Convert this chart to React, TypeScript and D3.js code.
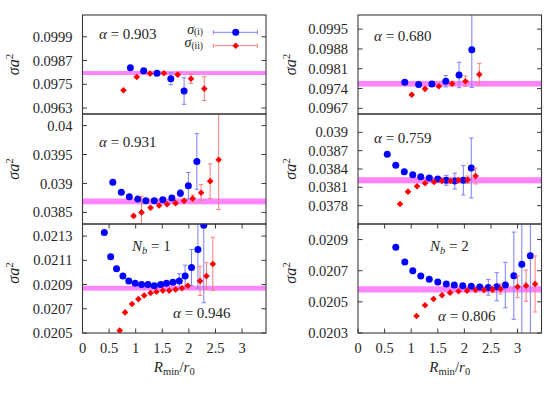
import React from 'react';
import * as d3 from 'd3';

// ---- shared x axis ----
const xTicks = [0, 0.5, 1, 1.5, 2, 2.5, 3];
const xTickLabels = ['0', '0.5', '1', '1.5', '2', '2.5', '3'];
const xDomain = [0, 3.45];

// ---- panel data: [x, y, err] ----
// left top, alpha = 0.903
const ltBlue = [[0.90, 0.09834, 0.00004], [1.15, 0.09819, 0.00004], [1.40, 0.09806, 0.00005], [1.66, 0.09778, 0.0003], [1.91, 0.09716, 0.00067]];
const ltRed = [[0.77, 0.09720, 0.00003], [1.02, 0.09787, 0.00003], [1.27, 0.09804, 0.00003], [1.53, 0.09806, 0.00004], [1.79, 0.09799, 0.00008], [2.04, 0.09778, 0.00024], [2.29, 0.09728, 0.0006]];
const ltBand = [0.09807, 0.0001];
const ltYTicks = [0.0963, 0.0975, 0.0987, 0.0999];
const ltYLabels = ['0.0963', '0.0975', '0.0987', '0.0999'];

// left middle, alpha = 0.931
const lmBlue = [[0.57, 0.03902, 0.00001], [0.73, 0.03885, 0.00001], [0.88, 0.03877, 0.00001], [1.04, 0.03873, 0.00001], [1.19, 0.03870, 0.00001], [1.35, 0.03870, 0.00002], [1.51, 0.03872, 0.00002], [1.68, 0.03875, 0.00004], [1.84, 0.03883, 0.00006], [1.99, 0.03896, 0.00023], [2.15, 0.03938, 0.00048]];
const lmRed = [[0.96, 0.03844, 0.00002], [1.11, 0.03850, 0.00028], [1.28, 0.03858, 0.00002], [1.44, 0.03862, 0.00002], [1.59, 0.03864, 0.00002], [1.75, 0.03866, 0.00002], [1.91, 0.03870, 0.00003], [2.07, 0.03874, 0.00006], [2.23, 0.03884, 0.00014], [2.40, 0.03904, 0.0003], [2.56, 0.03941, 0.00086]];
const lmBand = [0.03869, 0.00005];
const lmYTicks = [0.0385, 0.039, 0.0395, 0.04];
const lmYLabels = ['0.0385', '0.039', '0.0395', '0.04'];

// left bottom, alpha = 0.946, N_b = 1
const lbBlue = [[0.41, 0.02133, 0], [0.53, 0.02113, 0], [0.64, 0.02103, 0], [0.76, 0.02097, 0], [0.87, 0.02093, 0], [0.99, 0.02091, 0], [1.11, 0.02090, 0], [1.23, 0.02090, 0], [1.35, 0.02089, 0], [1.47, 0.02090, 0.000005], [1.58, 0.02091, 0.00001], [1.70, 0.02092, 0.00002], [1.82, 0.02093, 0.00006], [1.93, 0.02097, 0.00009], [2.05, 0.02104, 0.00015], [2.17, 0.02119, 0.00032], [2.28, 0.02139, 0.00064]];
const lbRed = [[0.70, 0.02052, 0], [0.80, 0.02067, 0], [0.93, 0.02074, 0], [1.05, 0.02078, 0], [1.16, 0.02081, 0], [1.28, 0.02083, 0], [1.39, 0.02084, 0], [1.51, 0.02085, 0], [1.63, 0.02085, 0], [1.75, 0.02086, 0], [1.87, 0.02087, 0.000005], [1.98, 0.02089, 0.00001], [2.21, 0.02093, 0.00012], [2.33, 0.02097, 0.00011], [2.45, 0.02107, 0.00022]];
const lbBand = [0.02087, 0.00002];
const lbYTicks = [0.0205, 0.0207, 0.0209, 0.0211, 0.0213];
const lbYLabels = ['0.0205', '0.0207', '0.0209', '0.0211', '0.0213'];

// right top, alpha = 0.680
const rtBlue = [[0.88, 0.09762, 0.00003], [1.14, 0.09754, 0.00003], [1.39, 0.09756, 0.00005], [1.65, 0.09766, 0.0002], [1.90, 0.09788, 0.00045], [2.14, 0.09877, 0.00133]];
const rtRed = [[1.01, 0.09718, 0.00003], [1.26, 0.09739, 0.00003], [1.52, 0.09748, 0.00004], [1.77, 0.09757, 0.00006], [2.02, 0.09766, 0.00018], [2.28, 0.0979, 0.00039]];
const rtBand = [0.09757, 0.0001];
const rtYTicks = [0.0967, 0.0974, 0.0981, 0.0988, 0.0995];
const rtYLabels = ['0.0967', '0.0974', '0.0981', '0.0988', '0.0995'];

// right middle, alpha = 0.759
const rmBlue = [[0.55, 0.03864, 0.00001], [0.71, 0.03846, 0.00001], [0.87, 0.038356, 0.00001], [1.03, 0.038307, 0.00001], [1.18, 0.038274, 0.00001], [1.34, 0.038253, 0.00002], [1.50, 0.038236, 0.00003], [1.66, 0.038215, 0.00008], [1.82, 0.038203, 0.00013], [1.98, 0.038215, 0.00024], [2.13, 0.038416, 0.00049]];
const rmRed = [[0.79, 0.037827, 0.00001], [0.94, 0.038029, 0.00001], [1.11, 0.038117, 0.00001], [1.26, 0.038166, 0.00001], [1.43, 0.038187, 0.00001], [1.58, 0.038203, 0.00002], [1.74, 0.038203, 0.00003], [1.89, 0.038215, 0.00004], [2.06, 0.038225, 0.00006], [2.21, 0.038285, 0.00013]];
const rmBand = [0.038215, 0.00005];
const rmYTicks = [0.0378, 0.0381, 0.0384, 0.0387, 0.039];
const rmYLabels = ['0.0378', '0.0381', '0.0384', '0.0387', '0.039'];

// right bottom, alpha = 0.806, N_b = 2
const rbBlue = [[0.71, 0.02085, 0], [0.88, 0.020756, 0], [1.03, 0.0207, 0], [1.18, 0.020666, 0], [1.34, 0.020645, 0], [1.50, 0.020627, 0], [1.66, 0.020615, 0], [1.81, 0.020608, 0], [1.97, 0.020604, 0.000005], [2.13, 0.0206, 0.00001], [2.29, 0.020595, 0.000016], [2.45, 0.020593, 0.00005], [2.61, 0.020597, 0.00009], [2.77, 0.020608, 0.000146], [2.93, 0.020668, 0.00028], [3.08, 0.020741, 0.0006], [3.24, 0.020796, 0.0007]];
const rbRed = [[1.10, 0.020409, 0], [1.26, 0.020478, 0], [1.42, 0.020518, 0], [1.58, 0.020542, 0], [1.73, 0.020559, 0], [1.89, 0.020568, 0], [2.05, 0.020572, 0], [2.21, 0.020576, 0], [2.37, 0.020576, 0.00001], [2.53, 0.02058, 0.00002], [2.68, 0.020583, 0.000032], [3.00, 0.020597, 0.00007], [3.16, 0.020604, 0.0001], [3.33, 0.020615, 0.00018]];
const rbBand = [0.02058, 0.00002];
const rbYTicks = [0.0203, 0.0205, 0.0207, 0.0209];
const rbYLabels = ['0.0203', '0.0205', '0.0207', '0.0209'];

const alphaLabels = ['0.903', '0.931', '0.946', '0.680', '0.759', '0.806'];
const nbLabels = ['1', '2'];
const legendSubs = ['(i)', '(ii)'];

// ---- layout ----
const W = 551, H = 394;
const colX = [[82.5, 266], [358, 541.5]];
const rowY = [[15, 114], [114, 224], [224, 333]];
const FONT = "'Liberation Serif', 'Times New Roman', serif";
const TXT = '#262626';
const FRAME = '#3a3a3a';
const BLUE = '#0000ff', RED = '#ff0000';
const BLUE_ERR = '#7d7dff', RED_ERR = '#ff7d7d';
const BAND = '#ff85ff';
const fs = (size: number, italic = false) => ({ fontFamily: FONT, fontSize: size + 'px', fontStyle: italic ? 'italic' : 'normal' });

const panels = [
  { col: 0, row: 0, yDomain: [0.096, 0.101], yTicks: ltYTicks, yLabels: ltYLabels, blue: ltBlue, red: ltRed, band: ltBand, alpha: alphaLabels[0], aPos: [99, 39], nb: null, legend: true },
  { col: 0, row: 1, yDomain: [0.0383, 0.0402], yTicks: lmYTicks, yLabels: lmYLabels, blue: lmBlue, red: lmRed, band: lmBand, alpha: alphaLabels[1], aPos: [99, 147.3], nb: null },
  { col: 0, row: 2, yDomain: [0.0205, 0.0214], yTicks: lbYTicks, yLabels: lbYLabels, blue: lbBlue, red: lbRed, band: lbBand, alpha: alphaLabels[2], aPos: [173, 318.3], nb: nbLabels[0], nbPos: [132, 251.3] },
  { col: 1, row: 0, yDomain: [0.0965, 0.1], yTicks: rtYTicks, yLabels: rtYLabels, blue: rtBlue, red: rtRed, band: rtBand, alpha: alphaLabels[3], aPos: [374, 41], nb: null },
  { col: 1, row: 1, yDomain: [0.0375, 0.0393], yTicks: rmYTicks, yLabels: rmYLabels, blue: rmBlue, red: rmRed, band: rmBand, alpha: alphaLabels[4], aPos: [374, 142.7], nb: null },
  { col: 1, row: 2, yDomain: [0.0203, 0.021], yTicks: rbYTicks, yLabels: rbYLabels, blue: rbBlue, red: rbRed, band: rbBand, alpha: alphaLabels[5], aPos: [438, 321.3], nb: nbLabels[1], nbPos: [430, 251.3] },
];

const diamond = (cx: number, cy: number, r: number) => `M${cx},${cy - r}L${cx + r},${cy}L${cx},${cy + r}L${cx - r},${cy}Z`;

function Series({ data, x, y, color, errColor, kind }: any) {
  return (
    <g>
      {data.map((d: number[], i: number) => {
        const px = x(d[0]);
        const y1 = y(d[1] + d[2]);
        const y2 = y(d[1] - d[2]);
        if (y2 - y1 < 1.5) return null;
        return (
          <g key={'e' + i} stroke={errColor} strokeWidth={1}>
            <line x1={px} x2={px} y1={y1} y2={y2} />
            <line x1={px - 2.2} x2={px + 2.2} y1={y1} y2={y1} />
            <line x1={px - 2.2} x2={px + 2.2} y1={y2} y2={y2} />
          </g>
        );
      })}
      {data.map((d: number[], i: number) =>
        kind === 'circle' ? (
          <circle key={'p' + i} cx={x(d[0])} cy={y(d[1])} r={3.5} fill={color} />
        ) : (
          <path key={'p' + i} d={diamond(x(d[0]), y(d[1]), 3.3)} fill={color} />
        )
      )}
    </g>
  );
}

function Panel({ p, idx }: any) {
  const [x0, x1] = colX[p.col];
  const [y0, y1] = rowY[p.row];
  const x = d3.scaleLinear().domain(xDomain).range([x0, x1]);
  const y = d3.scaleLinear().domain(p.yDomain).range([y1, y0]);
  const clipId = 'clip' + idx;
  const isBottom = p.row === 2;
  const tl = 4.5;
  return (
    <g>
      <defs>
        <clipPath id={clipId}>
          <rect x={x0} y={y0} width={x1 - x0} height={y1 - y0} />
        </clipPath>
      </defs>
      <g clipPath={`url(#${clipId})`}>
        <rect x={x0} y={y(p.band[0] + p.band[1])} width={x1 - x0} height={y(p.band[0] - p.band[1]) - y(p.band[0] + p.band[1])} fill={BAND} />
        <Series data={p.blue} x={x} y={y} color={BLUE} errColor={BLUE_ERR} kind="circle" />
        <Series data={p.red} x={x} y={y} color={RED} errColor={RED_ERR} kind="diamond" />
      </g>
      {p.yTicks.map((t: number, i: number) => (
        <g key={'yt' + i}>
          <line x1={x0} x2={x0 + tl} y1={y(t)} y2={y(t)} stroke={FRAME} strokeWidth={1} />
          <line x1={x1} x2={x1 - tl} y1={y(t)} y2={y(t)} stroke={FRAME} strokeWidth={1} />
          <text x={x0 - 10} y={y(t)} dy="0.35em" textAnchor="end" style={fs(14.5)} fill={TXT}>{p.yLabels[i]}</text>
        </g>
      ))}
      {isBottom && xTicks.map((t, i) => (
        <g key={'xt' + i}>
          <line x1={x(t)} x2={x(t)} y1={y1} y2={y1 - tl} stroke={FRAME} strokeWidth={1} />
          <line x1={x(t)} x2={x(t)} y1={y0} y2={y0 + tl} stroke={FRAME} strokeWidth={1} />
          <text x={x(t)} y={352.5} textAnchor="middle" style={fs(14.5)} fill={TXT}>{xTickLabels[i]}</text>
        </g>
      ))}
      <rect x={x0} y={y0} width={x1 - x0} height={y1 - y0} fill="none" stroke={FRAME} strokeWidth={1.1} />
      <text x={p.aPos[0]} y={p.aPos[1]} style={fs(15)} fill={TXT}>
        <tspan style={fs(15, true)}>α</tspan> = {p.alpha}
      </text>
      {p.nb && (
        <text x={p.nbPos[0]} y={p.nbPos[1]} style={fs(15)} fill={TXT}>
          <tspan style={fs(15, true)}>N</tspan>
          <tspan style={fs(10.5, true)} dy={3}>b</tspan>
          <tspan dy={-3}> = {p.nb}</tspan>
        </text>
      )}
      <text transform={`translate(${p.col === 0 ? 19 : 296},${p.row === 2 ? 273 : (y0 + y1) / 2}) rotate(-90)`} textAnchor="middle" style={fs(16)} fill={TXT}>
        <tspan style={fs(16, true)}>σa</tspan>
        <tspan style={fs(11)} dy={-6}>2</tspan>
      </text>
      {isBottom && (
        <text x={(x0 + x1) / 2} y={372} textAnchor="middle" style={fs(15)} fill={TXT}>
          <tspan style={fs(15, true)}>R</tspan>
          <tspan style={fs(10.5)} dy={3}>min</tspan>
          <tspan dy={-3}>/</tspan>
          <tspan style={fs(15, true)}>r</tspan>
          <tspan style={fs(10.5)} dy={3}>0</tspan>
        </text>
      )}
      {p.legend && (
        <g>
          {[{ c: BLUE, e: BLUE_ERR, ly: 32.3, k: 'circle' }, { c: RED, e: RED_ERR, ly: 45.7, k: 'diamond' }].map((l, i) => (
            <g key={'lg' + i}>
              <text x={203} y={l.ly + 1.5} textAnchor="end" style={fs(14)} fill={TXT}>
                <tspan style={fs(14, true)}>σ</tspan>
                <tspan style={fs(9.5)} dy={1.5}>{legendSubs[i]}</tspan>
              </text>
              <g stroke={l.e} strokeWidth={1}>
                <line x1={213.3} x2={257.3} y1={l.ly} y2={l.ly} />
                <line x1={213.3} x2={213.3} y1={l.ly - 2.2} y2={l.ly + 2.2} />
                <line x1={257.3} x2={257.3} y1={l.ly - 2.2} y2={l.ly + 2.2} />
              </g>
              {l.k === 'circle' ? <circle cx={235.7} cy={l.ly} r={3.5} fill={l.c} /> : <path d={diamond(235.7, l.ly, 3.3)} fill={l.c} />}
            </g>
          ))}
        </g>
      )}
    </g>
  );
}

export default function App() {
  return (
    <svg width={W} height={H} viewBox={`0 0 ${W} ${H}`} style={{ position: 'absolute', left: 0, top: 0, background: '#fff' }}>
      <rect x={0} y={0} width={W} height={H} fill="#fff" />
      {panels.map((p, i) => <Panel key={i} p={p} idx={i} />)}
    </svg>
  );
}
